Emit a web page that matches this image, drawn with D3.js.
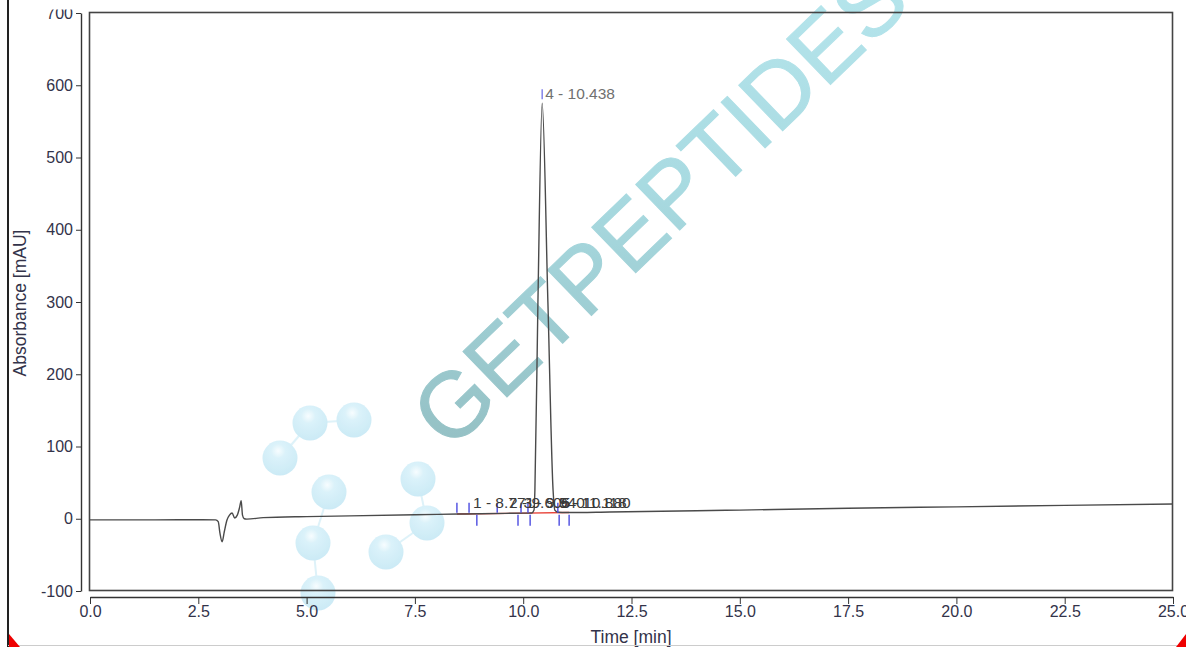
<!DOCTYPE html>
<html>
<head>
<meta charset="utf-8">
<script src="https://cdn.jsdelivr.net/npm/d3@7"></script>
<style>
  body { margin: 0; background: #fff; overflow: hidden; }
  svg text { font-family: "Liberation Sans", Arial, sans-serif; }
</style>
</head>
<body>
<div id="chart"></div>
<script>
// chromatogram trace (time in min, absorbance in mAU)
const traceTime = [0, 1.5, 2.6, 2.9, 2.96, 3.0, 3.05, 3.1, 3.16, 3.22, 3.28, 3.34, 3.4, 3.45, 3.49, 3.52, 3.56, 3.62,
  4.0, 5.0, 6.0, 7.5, 8.5, 9.0, 9.6, 10.0, 10.2, 10.25, 10.27, 10.34, 10.438, 10.57, 10.69, 10.73, 10.8, 11.0,
  12.0, 14.0, 15.0, 17.5, 20.0, 22.5, 25.0];
const traceAbs = [-1.5, -1.5, -1.3, -1.5, -4, -20, -32, -18, -2, 5, 8, 1, 5, 15, 25, 5, 0, -0.5,
  1.5, 3, 4, 5.5, 6.5, 7, 7.5, 7.8, 8, 12, 39, 300, 575, 300, 39, 12, 9, 8.6,
  9.3, 11, 12, 14.5, 16.5, 18.5, 20.5];

// peak labels
const peakTimes = [8.771, 9.605, 9.94, 10.438, 10.76, 10.80];
const peakLabels = ["1 - 8.771", "2 - 9.605", "3 - 9.940", "4 - 10.438", "5 - 11.118", "6 - 10.880"];
const peakHeights = [7, 7.5, 7.8, 575, 8.6, 8.6];

// integration markers
const startMarks = [8.47, 8.75, 9.4, 9.95, 10.11, 10.8];
const endMarks = [8.93, 9.88, 10.16, 10.83, 11.06];
const baselineSeg = [[8.47, 6.5], [11.06, 8.6]];

// axes
const xMajor = [0, 2.5, 5, 7.5, 10, 12.5, 15, 17.5, 20, 22.5, 25];
const yMajor = [-100, 0, 100, 200, 300, 400, 500, 600, 700];

// watermark molecule balls
const ballX = [280, 310, 354, 329, 313, 318, 418, 427, 386];
const ballY = [458, 423, 420, 492, 543, 593, 479, 523, 552];
const bonds = [[0, 1], [1, 2], [3, 4], [4, 5], [6, 7], [7, 8]];

const W = 1186, H = 647;
const svg = d3.select("#chart").append("svg").attr("width", W).attr("height", H);

const x = d3.scaleLinear().domain([0, 25]).range([90, 1173]);
const y = d3.scaleLinear().domain([-100, 700]).range([591, 13]);

// ---- watermark ----
const defs = svg.append("defs");
const tg = defs.append("linearGradient").attr("id", "wmText")
  .attr("gradientUnits", "userSpaceOnUse")
  .attr("x1", 430).attr("y1", 450).attr("x2", 880).attr("y2", 0);
tg.append("stop").attr("offset", "0%").attr("stop-color", "#6fa9ae");
tg.append("stop").attr("offset", "45%").attr("stop-color", "#8ccfd8");
tg.append("stop").attr("offset", "100%").attr("stop-color", "#a9e6f0");

const bg = defs.append("radialGradient").attr("id", "ball")
  .attr("cx", "45%").attr("cy", "30%").attr("r", "70%");
bg.append("stop").attr("offset", "0%").attr("stop-color", "#f6fdff");
bg.append("stop").attr("offset", "30%").attr("stop-color", "#d2eff9");
bg.append("stop").attr("offset", "100%").attr("stop-color", "#bfe6f4");

const wm = svg.append("g").attr("opacity", 0.8);
wm.selectAll(".bond").data(bonds).join("line")
  .attr("x1", d => ballX[d[0]]).attr("y1", d => ballY[d[0]])
  .attr("x2", d => ballX[d[1]]).attr("y2", d => ballY[d[1]])
  .attr("stroke", "#d6f0f8").attr("stroke-width", 2);
wm.selectAll(".ball").data(ballX).join("circle")
  .attr("cx", d => d).attr("cy", (d, i) => ballY[i]).attr("r", 17.5)
  .attr("fill", "url(#ball)");
svg.append("text")
  .attr("transform", "translate(450,452) rotate(-44)")
  .attr("font-size", 92)
  .attr("font-family", "'DejaVu Sans', sans-serif")
  .attr("fill", "url(#wmText)")
  .attr("stroke", "url(#wmText)")
  .attr("stroke-width", 1)
  .attr("opacity", 0.75)
  .text("GETPEPTIDES.");

// ---- frame ----
svg.append("rect")
  .attr("x", 89.5).attr("y", 12.5).attr("width", 1083).attr("height", 578)
  .attr("fill", "none").attr("stroke", "#444").attr("stroke-width", 1.6);

const fmtY = d => String(d);

// ---- y axis ----
const yAxisG = svg.append("g").attr("transform", "translate(81,0)");
yAxisG.call(d3.axisLeft(y).tickValues(d3.range(-100, 701, 25)).tickSize(3).tickFormat("").tickSizeOuter(0));
yAxisG.call(d3.axisLeft(y).tickValues(yMajor).tickSize(5).tickSizeOuter(0).tickFormat(fmtY));
yAxisG.selectAll(".domain").attr("stroke", "#333").attr("stroke-width", 1.4);
yAxisG.selectAll("line").attr("stroke", "#333");
yAxisG.selectAll("text").attr("font-size", 16).attr("fill", "#33334a").attr("x", -8);

// ---- x axis ----
const xAxisG = svg.append("g").attr("transform", "translate(0,597)");
xAxisG.call(d3.axisBottom(x).tickValues(d3.range(0, 25.01, 0.5)).tickSize(4).tickFormat("").tickSizeOuter(0));
xAxisG.call(d3.axisBottom(x).tickValues(xMajor).tickSize(7).tickSizeOuter(0).tickFormat(d3.format(".1f")));
xAxisG.selectAll(".domain").attr("stroke", "#333").attr("stroke-width", 1.4);
xAxisG.selectAll("line").attr("stroke", "#333");
xAxisG.selectAll("text").attr("font-size", 16).attr("fill", "#33334a").attr("y", 9);

// hide the top of the "700" label like the reference crop
svg.append("rect").attr("x", 20).attr("y", 0).attr("width", 58).attr("height", 9.5).attr("fill", "#fff");

// axis titles
svg.append("text")
  .attr("text-anchor", "middle")
  .attr("transform", "translate(26,303) rotate(-90)")
  .attr("font-size", 17.5).attr("fill", "#33334a")
  .text("Absorbance [mAU]");
svg.append("text")
  .attr("text-anchor", "middle")
  .attr("x", 631).attr("y", 643)
  .attr("font-size", 17.5).attr("fill", "#33334a")
  .text("Time [min]");

// ---- integration baseline ----
svg.append("line")
  .attr("x1", x(baselineSeg[0][0])).attr("y1", y(baselineSeg[0][1]))
  .attr("x2", x(baselineSeg[1][0])).attr("y2", y(baselineSeg[1][1]))
  .attr("stroke", "#e8443a").attr("stroke-width", 1.4);

// ---- trace ----
const trace = traceTime.map((t, i) => [t, traceAbs[i]]);
svg.append("path")
  .datum(trace)
  .attr("fill", "none")
  .attr("stroke", "#4a4a4a")
  .attr("stroke-width", 1.4)
  .attr("d", d3.line().x(d => x(d[0])).y(d => y(d[1])).curve(d3.curveMonotoneX));

// peak start / end markers
svg.selectAll(".smark").data(startMarks).join("line")
  .attr("x1", d => x(d)).attr("x2", d => x(d))
  .attr("y1", y(7) - 11).attr("y2", y(7) - 1)
  .attr("stroke", "#4b4be0").attr("stroke-width", 1.4);
svg.selectAll(".emark").data(endMarks).join("line")
  .attr("x1", d => x(d)).attr("x2", d => x(d))
  .attr("y1", y(7) + 1).attr("y2", y(7) + 12)
  .attr("stroke", "#4b4be0").attr("stroke-width", 1.4);

// peak labels
svg.selectAll(".plabel").data(peakLabels).join("text")
  .attr("x", (d, i) => x(peakTimes[i]) + 3)
  .attr("y", (d, i) => i === 3 ? y(peakHeights[i]) - 4 : 508)
  .attr("font-size", 15.5)
  .attr("fill", (d, i) => i === 3 ? "#707070" : "#3a3a3a")
  .text(d => d);
svg.append("line")
  .attr("x1", x(peakTimes[3])).attr("x2", x(peakTimes[3]))
  .attr("y1", y(peakHeights[3]) - 14).attr("y2", y(peakHeights[3]) - 4)
  .attr("stroke", "#7a7ae8").attr("stroke-width", 1.4);

// ---- window edges ----
svg.append("line").attr("x1", 8).attr("x2", 8).attr("y1", 0).attr("y2", H)
  .attr("stroke", "#222").attr("stroke-width", 2);
svg.append("line").attr("x1", 8).attr("x2", W).attr("y1", 645.5).attr("y2", 645.5)
  .attr("stroke", "#ccc").attr("stroke-width", 1);
svg.append("polygon").attr("points", "9,634 9,647 20,647").attr("fill", "#e00");
svg.append("polygon").attr("points", "1186,634 1186,647 1176,647").attr("fill", "#e00");
</script>
</body>
</html>
